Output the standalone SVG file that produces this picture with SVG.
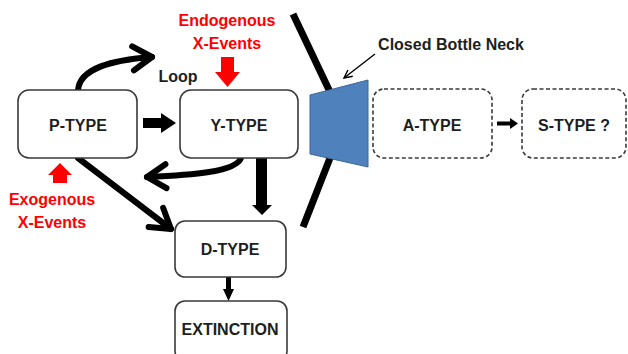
<svg xmlns="http://www.w3.org/2000/svg" width="628" height="354" viewBox="0 0 628 354">
<style>
.box{fill:#fff;stroke:#3a3a3a;stroke-width:1.6}
.dash{fill:#fff;stroke:#3a3a3a;stroke-width:1.6;stroke-dasharray:4 2.5}
.lbl{font-family:"Liberation Sans",Arial,sans-serif;font-weight:bold;font-size:16px;fill:#1e1e1e;text-anchor:middle}
.red{font-family:"Liberation Sans",Arial,sans-serif;font-weight:bold;font-size:16px;fill:#ff0000;text-anchor:middle}
.thick{fill:none;stroke:#000;stroke-width:6;stroke-linecap:round}
</style>
<defs>
<marker id="chev" markerUnits="userSpaceOnUse" viewBox="-24 -16 28 32" refX="0" refY="0" markerWidth="28" markerHeight="32" orient="auto" overflow="visible">
<path d="M-19,-12 L0,0 L-19,12" fill="none" stroke="#000" stroke-width="6" stroke-linecap="round" stroke-linejoin="round"/>
</marker>
<marker id="thin" markerUnits="userSpaceOnUse" viewBox="-10 -6 12 12" refX="0" refY="0" markerWidth="12" markerHeight="12" orient="auto" overflow="visible">
<path d="M-8,-4 L0,0 L-8,4" fill="none" stroke="#000" stroke-width="1.4"/>
</marker>
</defs>
<g id="bottleneck">
<line x1="293" y1="14" x2="330" y2="92" stroke="#000" stroke-width="7"/>
<line x1="330" y1="158" x2="303" y2="227" stroke="#000" stroke-width="7"/>
<polygon points="310,95 368,80 368,167 310,154" fill="#4f81bd" stroke="#3d6797" stroke-width="1"/>
</g>
<g id="connectors">
<path class="thick" d="M78,90 C80,68 112,60 152,57" marker-end="url(#chev)"/>
<polygon points="143,118 161,118 161,113 176,123 161,133 161,128 143,128" fill="#000"/>
<path class="thick" d="M241,158 C236,172 192,175 147,177" marker-end="url(#chev)"/>
<path class="thick" d="M78,158 L171,229" marker-end="url(#chev)"/>
<polygon points="256,158 267,158 267,205 272,205 262,215 252,205 256,205" fill="#000"/>
<polygon points="226,277 231,277 231,289 234,289 228.5,301 223,289 226,289" fill="#000"/>
<polygon points="497,121.5 510,121.5 510,118 518,123.5 510,129 510,125.5 497,125.5" fill="#000"/>
<line x1="375" y1="54" x2="344" y2="78" stroke="#000" stroke-width="1.4" marker-end="url(#thin)"/>
</g>
<g id="p-type">
<rect class="box" x="18" y="90" width="119" height="68" rx="11"/>
<text class="lbl" x="78" y="131">P-TYPE</text>
</g>
<g id="y-type">
<rect class="box" x="180" y="90" width="118" height="68" rx="11"/>
<text class="lbl" x="239" y="131">Y-TYPE</text>
</g>
<g id="d-type">
<rect class="box" x="175" y="221" width="111" height="56" rx="10"/>
<text class="lbl" x="230" y="255">D-TYPE</text>
</g>
<g id="extinction">
<rect class="box" x="175" y="301" width="112" height="60" rx="10"/>
<text class="lbl" x="230" y="335">EXTINCTION</text>
</g>
<g id="a-type">
<rect class="dash" x="373" y="89" width="119" height="69" rx="11"/>
<text class="lbl" x="432" y="131">A-TYPE</text>
</g>
<g id="s-type">
<rect class="dash" x="522" y="89" width="104" height="69" rx="11"/>
<text class="lbl" x="574" y="131">S-TYPE ?</text>
</g>
<g id="endogenous">
<text class="red" x="227" y="26">Endogenous</text>
<text class="red" x="227" y="49">X-Events</text>
<polygon points="221,57 234,57 234,72 240,72 227.5,87 215,72 221,72" fill="#ff0000"/>
</g>
<g id="exogenous">
<polygon points="53,183 67,183 67,175 72,175 60,163 48,175 53,175" fill="#ff0000"/>
<text class="red" x="52" y="205">Exogenous</text>
<text class="red" x="52" y="228">X-Events</text>
</g>
<text class="lbl" x="178" y="82">Loop</text>
<text class="lbl" x="451" y="50">Closed Bottle Neck</text>
</svg>
